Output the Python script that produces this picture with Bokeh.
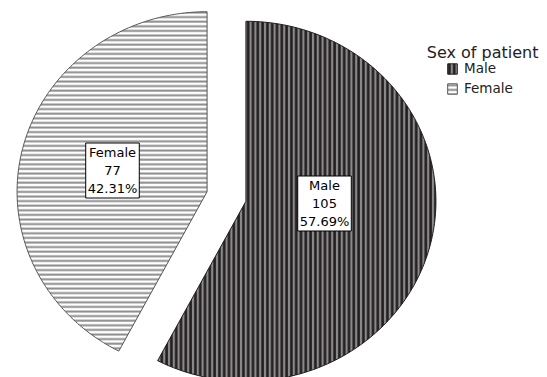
import numpy as np
from bokeh.plotting import figure
from bokeh.models import Range1d, Label, Legend, LegendItem, ColumnDataSource
from bokeh.embed import file_html
from bokeh.resources import INLINE

# ---- data ----
categories = ["Male", "Female"]
counts = [105, 77]
legend_title = "Sex of patient"

# ---- layout (page-pixel coordinates, y downward) ----
W, H = 547, 377
CX, CY = 226.0, 196.0      # pie centre before explosion
RX, RY = 190.0, 180.0      # pie radii
EXPLODE = 20.0
label_pos = {"Male": (324, 203), "Female": (112, 170)}
styles = {
    "Male": dict(fill_color="#8a8a8a", hatch_pattern="vertical_line", hatch_color="#231f20",
                 hatch_weight=2.6, hatch_scale=4.8, line_color="#231f20", line_width=1),
    "Female": dict(fill_color="white", hatch_pattern="horizontal_line", hatch_color="#8c8c8c",
                   hatch_weight=2.0, hatch_scale=4.6, line_color="#555555", line_width=1),
}
FONT = "DejaVu Sans"

p = figure(width=W, height=H, output_backend="svg", toolbar_location=None,
           x_range=Range1d(0, W), y_range=Range1d(H, 0),
           x_axis_type=None, y_axis_type=None, min_border=0)
p.outline_line_color = None
p.background_fill_color = "white"

total = float(sum(counts))
cum = 0.0
items = []
for cat, cnt in zip(categories, counts):
    a0 = cum / total * 2 * np.pi
    cum += cnt
    a1 = cum / total * 2 * np.pi
    mid = (a0 + a1) / 2
    cx = CX + EXPLODE * np.sin(mid)
    cy = CY - EXPLODE * np.cos(mid)
    t = np.linspace(a0, a1, 200)
    xs = [cx] + list(cx + RX * np.sin(t)) + [cx]
    ys = [cy] + list(cy - RY * np.cos(t)) + [cy]
    src = ColumnDataSource(dict(x=xs, y=ys))
    r = p.patch("x", "y", source=src, **styles[cat])
    items.append(LegendItem(label=cat, renderers=[r]))
    pct = cnt / total * 100
    lx, ly = label_pos[cat]
    p.add_layout(Label(x=lx, y=ly, text=f"{cat}\n{cnt}\n{pct:.2f}%",
                       text_align="center", text_baseline="middle",
                       text_font=FONT, text_font_size="13px", text_color="black",
                       background_fill_color="white", border_line_color="black",
                       border_line_width=1, padding=2))

p.add_layout(Label(x=538, y=52, text=legend_title, text_align="right",
                   text_baseline="alphabetic", text_font=FONT,
                   text_font_size="16px", text_color="#222222"))

legend = Legend(items=items, location=(446, 281), orientation="vertical",
                glyph_width=12, glyph_height=13, label_height=13, spacing=4,
                label_standoff=6, padding=0, margin=0,
                label_text_font=FONT, label_text_font_size="13.5px",
                label_text_color="#222222",
                border_line_color=None, background_fill_alpha=0)
p.add_layout(legend)

open("out.html", "w").write(file_html(p, INLINE))
